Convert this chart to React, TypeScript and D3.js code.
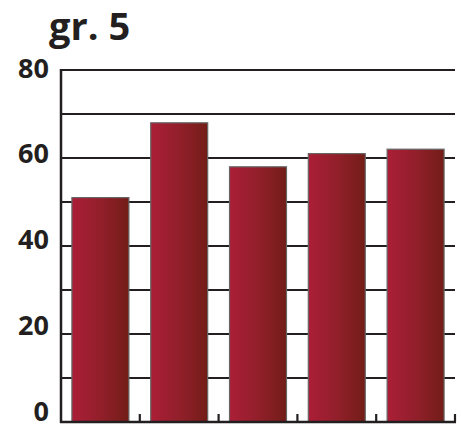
import React from "react";
import * as d3 from "d3";

const categories = ["A", "B", "C", "D", "E"];
const values = [51, 68, 58, 61, 62];
const yTicks = [0, 20, 40, 60, 80];
const gridValues = [10, 20, 30, 40, 50, 60, 70, 80];
const title = "gr. 5";

const W = 461;
const H = 424;
const left = 61;
const right = 455;
const top = 70;
const bottom = 422;

export default function App() {
  const x = d3
    .scaleBand<string>()
    .domain(categories)
    .range([left, right])
    .paddingInner(0.277)
    .paddingOuter(0.1385);
  const y = d3.scaleLinear().domain([0, 80]).range([bottom, top]);
  const yLabel = d3.scaleLinear().domain([0, 80]).range([411, 68]);
  const ink = "#231f20";
  const font = "'Open Sans', sans-serif";
  const step = x.step();

  return (
    <svg
      width={W}
      height={H}
      style={{ position: "absolute", left: 0, top: 0, background: "#fff" }}
    >
      <defs>
        <linearGradient id="barGrad" x1="0" x2="1" y1="0" y2="0">
          <stop offset="0%" stopColor="#ab1e37" />
          <stop offset="50%" stopColor="#921f2b" />
          <stop offset="100%" stopColor="#721d17" />
        </linearGradient>
      </defs>
      <text
        x={49}
        y={40}
        fontFamily={font}
        fontWeight={700}
        fontSize={38}
        fill={ink}
      >
        {title}
      </text>
      {gridValues.map((g) => (
        <line
          key={g}
          x1={left}
          x2={right}
          y1={y(g)}
          y2={y(g)}
          stroke={ink}
          strokeWidth={2.2}
        />
      ))}
      {categories.map((c, i) => (
        <rect
          key={c}
          x={x(c)}
          y={y(values[i])}
          width={x.bandwidth()}
          height={y(0) - y(values[i])}
          fill="url(#barGrad)"
          stroke="#666"
          strokeWidth={1.2}
        />
      ))}
      <line x1={left} x2={left} y1={top - 1} y2={bottom + 1} stroke={ink} strokeWidth={2.5} />
      <line x1={left - 1} x2={right + 1} y1={bottom} y2={bottom} stroke={ink} strokeWidth={2.5} />
      {categories.map((c) => (
        <line
          key={"t" + c}
          x1={(x(c) as number) - (step * x.paddingInner()) / 2 + step}
          x2={(x(c) as number) - (step * x.paddingInner()) / 2 + step}
          y1={bottom}
          y2={bottom - 8}
          stroke={ink}
          strokeWidth={2.2}
        />
      ))}
      {yTicks.map((t) => (
        <text
          key={t}
          x={49}
          y={yLabel(t)}
          dy="0.36em"
          textAnchor="end"
          fontFamily={font}
          fontWeight={700}
          fontSize={27}
          fill={ink}
        >
          {t}
        </text>
      ))}
    </svg>
  );
}
